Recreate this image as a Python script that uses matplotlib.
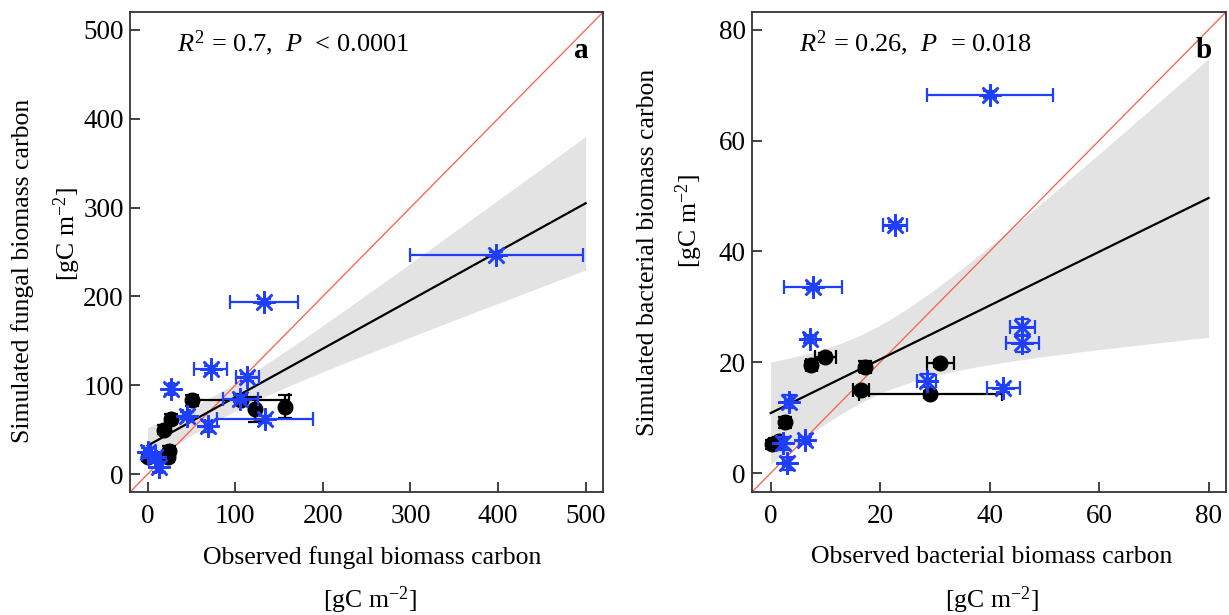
import numpy as np
import matplotlib.pyplot as plt

plt.rcParams['font.family'] = ['Liberation Serif', 'DejaVu Serif']
plt.rcParams['mathtext.fontset'] = 'custom'
plt.rcParams['mathtext.rm'] = 'Liberation Serif'
plt.rcParams['mathtext.it'] = 'Liberation Serif:italic'

# ---- panel a : fungal biomass carbon [gC m-2] ----
fung_blue_obs = [398, 133, 72, 114, 27, 106, 134, 45, 69, 0, 8, 13]
fung_blue_sim = [247, 194, 118, 109, 96, 85, 62, 66, 54, 25, 19, 8]
fung_blue_xerr = [99, 39, 19, 13, 3, 20, 55, 4, 4, 4, 3, 3]
fung_blue_yerr = [3, 3, 4, 4, 6, 4, 4, 4, 6, 4, 3, 6]

fung_black_obs = [51, 107, 123, 157, 27, 19, 25, 23, 0]
fung_black_sim = [83, 84, 73, 76, 62, 50, 26, 19, 19]
fung_black_xerr = [2, 54, 3, 3, 3, 3, 3, 3, 3]
fung_black_yerr = [6, 6, 14, 13, 6, 5, 6, 5, 4]

# ---- panel b : bacterial biomass carbon [gC m-2] ----
bact_blue_obs = [40, 22.7, 7.8, 7.2, 46, 46, 28.5, 42.5, 3.3, 6.2, 2.2, 2.9]
bact_blue_sim = [68.3, 44.8, 33.6, 24.2, 26.3, 23.4, 16.7, 15.3, 12.9, 5.9, 5.4, 1.8]
bact_blue_xerr = [11.5, 2.2, 5.3, 1.0, 2.3, 3.0, 1.7, 3.0, 0.6, 1.0, 0.5, 0.6]
bact_blue_yerr = [0.6, 0.6, 0.6, 0.8, 1.5, 1.5, 1.2, 0.6, 1.2, 0.6, 1.2, 1.2]

bact_black_obs = [10, 7.4, 17.3, 16.5, 29.2, 31, 2.7, 0.2, 1.6]
bact_black_sim = [21, 19.6, 19.2, 15, 14.2, 19.8, 9.2, 5.2, 5.8]
bact_black_xerr = [1.9, 1.0, 1.0, 1.5, 13, 2.5, 0.5, 0.5, 0.5]
bact_black_yerr = [0.6, 0.6, 1.0, 0.6, 0.6, 0.6, 1.0, 0.8, 0.8]

BLUE = '#1f3fff'
T_CRIT = 2.09  # ~ t(0.975, df~19)


def fit_band(x, y, xs):
    # ordinary least squares + 95% confidence band
    x = np.asarray(x, float)
    y = np.asarray(y, float)
    n = len(x)
    b, a = np.polyfit(x, y, 1)
    res = y - (a + b * x)
    s = np.sqrt(np.sum(res ** 2) / (n - 2))
    sxx = np.sum((x - x.mean()) ** 2)
    yhat = a + b * xs
    se = s * np.sqrt(1.0 / n + (xs - x.mean()) ** 2 / sxx)
    return yhat, yhat - T_CRIT * se, yhat + T_CRIT * se


def panel(ax, bo, bs, bxe, bye, ko, ks, kxe, kye, lim, xmax, ticks, txt, letter):
    x_all = np.array(bo + ko)
    y_all = np.array(bs + ks)
    xs = np.linspace(0, xmax, 200)
    yhat, lo, hi = fit_band(x_all, y_all, xs)
    ax.fill_between(xs, lo, hi, color='#e3e3e3', lw=0, zorder=1)
    ax.plot(lim, lim, color='#ff5a4a', lw=0.9, zorder=2)
    ax.plot(xs, yhat, color='black', lw=1.6, zorder=3)
    ax.errorbar(ko, ks, xerr=kxe, yerr=kye, fmt='o', color='black', ms=10.5,
                elinewidth=1.6, capsize=5, capthick=1.6, zorder=4)
    ax.errorbar(bo, bs, xerr=bxe, yerr=bye, fmt='none', ecolor=BLUE,
                elinewidth=1.6, capsize=5, capthick=1.6, zorder=5)
    ax.plot(bo, bs, ls='none', marker=(8, 2, 0), ms=16, mec=BLUE, mew=1.8, zorder=6)
    ax.set_xlim(lim)
    ax.set_ylim(lim)
    ax.set_xticks(ticks)
    ax.set_yticks(ticks)
    ax.tick_params(labelsize=19.5, length=7.5, width=1.3, color='#333333', direction='in')
    ax.tick_params(axis='x', pad=8.5)
    ax.tick_params(axis='y', pad=4.5)
    for sp in ax.spines.values():
        sp.set_linewidth(1.3)
        sp.set_color('#333333')
    ax.text(0.1, 0.935, txt, transform=ax.transAxes, fontsize=19, va='center')
    ax.text(0.97, 0.92, letter, transform=ax.transAxes, fontsize=21,
            fontweight='bold', ha='right', va='center')


fig = plt.figure(figsize=(12.29, 6.15), dpi=100)
ax1 = fig.add_axes([0.1058, 0.2, 0.385, 0.7805])
ax2 = fig.add_axes([0.6119, 0.2, 0.3857, 0.7805])

panel(ax1, fung_blue_obs, fung_blue_sim, fung_blue_xerr, fung_blue_yerr,
      fung_black_obs, fung_black_sim, fung_black_xerr, fung_black_yerr,
      (-20, 520), 500, [0, 100, 200, 300, 400, 500],
      r'$R^2$ = 0.7,  $P$  < 0.0001', 'a')
panel(ax2, bact_blue_obs, bact_blue_sim, bact_blue_xerr, bact_blue_yerr,
      bact_black_obs, bact_black_sim, bact_black_xerr, bact_black_yerr,
      (-3.4, 83.2), 80, [0, 20, 40, 60, 80],
      r'$R^2$ = 0.26,  $P$  = 0.018', 'b')

unit = r'[gC m$^{-2}$]'
fs = 18.5
fig.text(0.303, 0.094, 'Observed fungal biomass carbon', ha='center', va='center', fontsize=fs)
fig.text(0.301, 0.024, unit, ha='center', va='center', fontsize=fs)
fig.text(0.018, 0.56, 'Simulated fungal biomass carbon', rotation=90, ha='center', va='center', fontsize=fs)
fig.text(0.055, 0.62, unit, rotation=90, ha='center', va='center', fontsize=fs)

fig.text(0.807, 0.094, 'Observed bacterial biomass carbon', ha='center', va='center', fontsize=fs)
fig.text(0.807, 0.024, unit, ha='center', va='center', fontsize=fs)
fig.text(0.527, 0.59, 'Simulated bacterial biomass carbon', rotation=90, ha='center', va='center', fontsize=fs)
fig.text(0.561, 0.64, unit, rotation=90, ha='center', va='center', fontsize=fs)

fig.savefig('out.png', dpi=100)
